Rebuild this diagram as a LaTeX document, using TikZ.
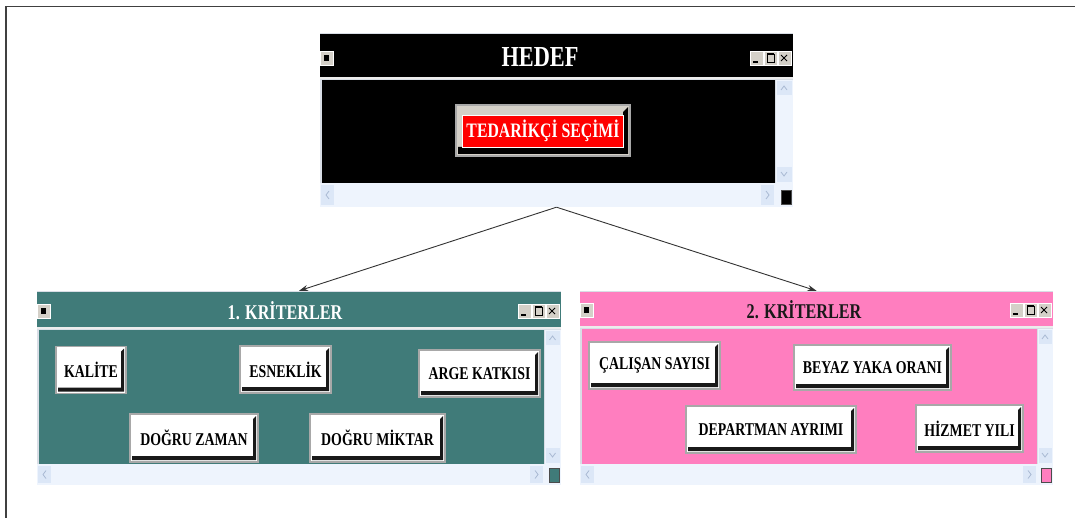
\documentclass[tikz,border=0pt]{standalone}
\usepackage{fontspec}
\setmainfont{Liberation Serif}
\newfontfamily\winfont[FakeStretch=0.77]{Liberation Serif}
\usetikzlibrary{arrows.meta,fit}

\definecolor{tealwin}{HTML}{407B79}
\definecolor{pinkwin}{HTML}{FF7EBF}
\definecolor{scrollbg}{HTML}{EEF4FD}
\definecolor{scrollbtn}{HTML}{DCE7F7}
\definecolor{chev}{HTML}{A9B9D3}
\definecolor{winedge}{HTML}{D9DEE6}
\definecolor{capbtn}{HTML}{D4D0C8}
\definecolor{btnedge}{HTML}{A8A8A8}
\definecolor{goalred}{HTML}{FF0000}

% A window: #1,#2 top-left; #3,#4 bottom-right; #5 title bar bottom;
% #6 body right edge; #7 body bottom edge; #8 window colour
\newcommand\winbox[8]{%
  \fill[winedge] (#1,#2) rectangle (#3,#4);
  \fill[#8] (#1,{#2+1}) rectangle (#3,#5);
  \fill[white!85!gray] (#1,#5) rectangle (#3,{#5+2});
  \fill[#8] ({#1+2},{#5+3}) rectangle (#6,#7);
  \fill[scrollbg] ({#6+1},{#5+3}) rectangle (#3,#7);
  \fill[scrollbg] (#1,#7) rectangle (#3,#4);
  % scroll arrows
  \fill[scrollbtn] ({#6+2},{#5+4}) rectangle ({#3-1},{#5+18});
  \draw[chevline] ({(#6+#3)/2-3},{#5+13}) -- ({(#6+#3)/2},{#5+9}) -- ({(#6+#3)/2+3},{#5+13});
  \fill[scrollbtn] ({#6+2},{#7-16}) rectangle ({#3-1},{#7-1});
  \draw[chevline] ({(#6+#3)/2-3},{#7-11}) -- ({(#6+#3)/2},{#7-7}) -- ({(#6+#3)/2+3},{#7-11});
  \fill[scrollbtn] ({#1+1},{#7+2}) rectangle ({#1+14},{#4-2});
  \draw[chevline] ({#1+9},{(#7+#4)/2-4}) -- ({#1+6},{(#7+#4)/2}) -- ({#1+9},{(#7+#4)/2+4});
  \fill[scrollbtn] ({#6-14},{#7+2}) rectangle ({#6-1},{#4-2});
  \draw[chevline] ({#6-9},{(#7+#4)/2-4}) -- ({#6-6},{(#7+#4)/2}) -- ({#6-9},{(#7+#4)/2+4});
  % size grip square
  \filldraw[fill=#8, draw=black!70, line width=0.6pt] ({#3-12},{#4-17}) rectangle ({#3-2},{#4-3});
}

% Title bar controls: #1 left x, #2 top y, #3 right x
\newcommand\wincontrols[3]{%
  \filldraw[fill=capbtn, draw=white, line width=0.6pt] (#1,#2) rectangle ({#1+13},{#2+14});
  \fill[black] ({#1+4},{#2+4}) rectangle ({#1+9},{#2+10});
  \foreach \k in {0,1,2}{
    \filldraw[fill=capbtn, draw=white, line width=0.6pt]
      ({#3-42+14*\k},#2) rectangle ({#3-29+14*\k},{#2+14});
  }
  \draw[black, line width=1.2pt] ({#3-39},{#2+11}) -- ({#3-34},{#2+11});
  \draw[black, line width=0.7pt] ({#3-25},{#2+3}) rectangle ({#3-18},{#2+11});
  \draw[black, line width=1.2pt] ({#3-25},{#2+2.5}) -- ({#3-18},{#2+2.5});
  \draw[black, line width=0.8pt] ({#3-11},{#2+4}) -- ({#3-5},{#2+10})
                                   ({#3-11},{#2+10}) -- ({#3-5},{#2+4});
}

\tikzset{
  chevline/.style={draw=chev, line width=0.8pt},
  wintitle/.style={inner sep=0pt, font=\winfont\bfseries\fontsize{21}{21}\selectfont},
  btnshadow/.style={path picture={
    \fill[black!90]
      ([xshift=2pt,yshift=2pt]path picture bounding box.south west) --
      ([xshift=-2pt,yshift=2pt]path picture bounding box.south east) --
      ([xshift=-2pt,yshift=-2pt]path picture bounding box.north east) --
      ([xshift=-5pt,yshift=-5pt]path picture bounding box.north east) --
      ([xshift=-5pt,yshift=6pt]path picture bounding box.south east) --
      ([xshift=2pt,yshift=6pt]path picture bounding box.south west) -- cycle;
  }},
  btn/.style={draw=btnedge, line width=1.6pt, fill=white, inner sep=0pt, text=black,
    font=\winfont\bfseries\fontsize{18}{18}\selectfont, btnshadow},
  goalbtn/.style={draw=btnedge, line width=1.2pt, fill=capbtn, inner sep=0pt, text=white,
    font=\winfont\bfseries\fontsize{20.5}{20.5}\selectfont,
    path picture={
      \fill[black]
        ([xshift=2pt,yshift=2pt]path picture bounding box.south west) --
        ([xshift=-2pt,yshift=2pt]path picture bounding box.south east) --
        ([xshift=-2pt,yshift=-2pt]path picture bounding box.north east) --
        ([xshift=-7pt,yshift=-7pt]path picture bounding box.north east) --
        ([xshift=-7pt,yshift=9pt]path picture bounding box.south east) --
        ([xshift=2pt,yshift=9pt]path picture bounding box.south west) -- cycle;
      \filldraw[fill=goalred, draw=white, line width=0.8pt]
        ([xshift=6pt,yshift=9pt]path picture bounding box.south west) rectangle
        ([xshift=-7pt,yshift=-10pt]path picture bounding box.north east);
    }},
  winarea/.style={inner sep=0pt},
  conn/.style={draw=black!80, line width=0.9pt, -{Stealth[length=9pt,width=6pt]}},
}

\begin{document}
\begin{tikzpicture}[x=1pt,y=-1pt]
\useasboundingbox (0,0) rectangle (1075,518);
\fill[white] (0,0) rectangle (1075,518);

% page frame
\draw[black!75, line width=1.6pt] (6,518) -- (6,6.5) -- (1075,6.5);

% ---- goal window ----
\winbox{320}{33}{793}{207}{77}{775}{183}{black}
\wincontrols{320}{51}{792}
\node[winarea, fit={(320,33) (793,207)}] (hedef) {};
\node[wintitle, text=white, font=\winfont\bfseries\fontsize{29}{29}\selectfont] (hedeft) at (540,57) {HEDEF};
\node[goalbtn, minimum width=174pt, minimum height=51pt] (goal) at (543,130.5) {TEDARİKÇİ SEÇİMİ};

% ---- first criteria window ----
\winbox{37}{291}{561}{485}{327}{544}{464}{tealwin}
\wincontrols{37}{304}{560}
\node[winarea, fit={(37,291) (561,485)}] (k1) {};
\node[wintitle, text=white] (k1t) at (285,311) {1. KRİTERLER};
\node[btn, minimum width=70pt, minimum height=47pt] (kalite) at (91,370) {KALİTE};
\node[btn, minimum width=91pt, minimum height=47pt] (esnek) at (285.5,369.5) {ESNEKLİK};
\node[btn, minimum width=121pt, minimum height=47pt] (arge) at (479.5,373.5) {ARGE KATKISI};
\node[btn, minimum width=128pt, minimum height=48pt] (dzaman) at (194,438) {DOĞRU ZAMAN};
\node[btn, minimum width=135pt, minimum height=48pt] (dmiktar) at (377.5,438) {DOĞRU MİKTAR};

% ---- second criteria window ----
\winbox{580}{291}{1053}{485}{326}{1037}{464}{pinkwin}
\wincontrols{580}{303}{1052}
\node[winarea, fit={(580,291) (1053,485)}] (k2) {};
\node[wintitle, text=black!90] (k2t) at (804,310) {2. KRİTERLER};
\node[btn, minimum width=131pt, minimum height=47pt] (calisan) at (654.5,365.5) {ÇALIŞAN SAYISI};
\node[btn, minimum width=157pt, minimum height=45pt] (beyaz) at (872.5,367.5) {BEYAZ YAKA ORANI};
\node[btn, minimum width=170pt, minimum height=47pt] (depart) at (771,429.5) {DEPARTMAN AYRIMI};
\node[btn, minimum width=107pt, minimum height=47pt] (hizmet) at (969.5,428.5) {HİZMET YILI};

% ---- connectors ----
\draw[conn] (hedef.south) -- (k1.north);
\draw[conn] (hedef.south) -- (k2.north);
\end{tikzpicture}
\end{document}
